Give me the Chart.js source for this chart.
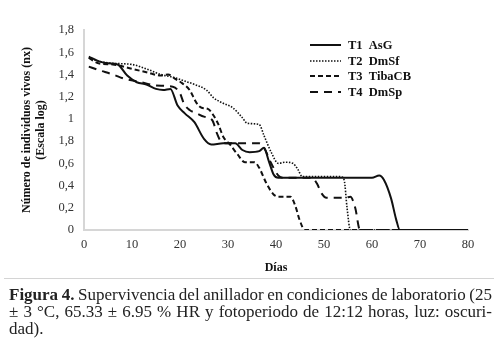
<!DOCTYPE html>
<html>
<head>
<meta charset="utf-8">
<script src="https://cdn.jsdelivr.net/npm/chart.js@4"></script>
<style>
  html,body{margin:0;padding:0;background:#fff;}
  #wrap{position:relative;width:500px;height:343px;overflow:hidden;background:#fff;}
  #c{position:absolute;left:0;top:0;}
  #rule{position:absolute;left:4px;width:490px;top:278px;border-top:1px solid #d4d4d4;}
  #cap{position:absolute;left:9px;top:286px;width:483px;font-family:"Liberation Serif","Times New Roman",serif;font-size:17px;line-height:17px;color:#222;}
  #cap .ln{display:block;white-space:nowrap;}
  #cap .ln span{display:inline-block;white-space:nowrap;}
</style>
</head>
<body>
<div id="wrap">
  <canvas id="c" width="500" height="280"></canvas>
  <div id="rule"></div>
  <div id="cap">
    <div class="ln"><span class="fit"><b>Figura 4.</b> Supervivencia del anillador en condiciones de laboratorio (25</span></div>
    <div class="ln"><span class="fit">± 3 °C, 65.33 ± 6.95 % HR y fotoperiodo de 12:12 horas, luz: oscuri-</span></div>
    <div class="ln"><span>dad).</span></div>
  </div>
</div>
<script>
// ---- Data ----
const seriesNames = ['T1  AsG', 'T2  DmSf', 'T3  TibaCB', 'T4  DmSp'];

const t1Days = [1,3,5,7,9,11,13,15,16.5,18,19.5,21,23,25,26.5,29,31.5,33,34.5,36.5,37.5,38.5,39.5,40.5,45,50,55,60,61.5,62.5,64,65,65.8,70,75,80];
const t1Vals = [1.56,1.52,1.50,1.49,1.39,1.33,1.31,1.27,1.26,1.27,1.12,1.05,0.97,0.82,0.77,0.78,0.78,0.72,0.70,0.71,0.74,0.62,0.50,0.47,0.47,0.47,0.47,0.47,0.49,0.45,0.28,0.10,0,0,0,0];

const t2Days = [1,3,6,10,13,16,19,21,23,25.5,27,29,31,33,34,36.5,37.5,39,40.5,42,43.5,44.5,45.5,50,53.5,54.2,54.8,55.5,60,70,80];
const t2Vals = [1.55,1.52,1.50,1.49,1.45,1.40,1.37,1.34,1.31,1.26,1.19,1.14,1.10,1.01,0.96,0.95,0.85,0.70,0.60,0.61,0.60,0.55,0.48,0.48,0.48,0.45,0.20,0,0,0,0];

const t3Days = [1,3,6,10,13,16,17.5,19,20.5,22,23.5,24.5,25.8,27,28,29,30.4,32,33.5,35.5,36.5,38,39.5,40.5,43,44,45,46,50,60,70,80];
const t3Vals = [1.55,1.50,1.49,1.45,1.42,1.39,1.40,1.36,1.32,1.26,1.14,1.10,1.09,1.03,0.95,0.84,0.77,0.68,0.61,0.61,0.56,0.42,0.32,0.30,0.30,0.22,0.08,0,0,0,0,0];

const t4Days = [1,3,6,8.5,12,15,18.5,20,20.8,22,23.5,25,26.7,27.7,28.5,30,33,36.5,37.5,39,40.5,41.5,45,47.5,48.5,49.5,50.5,54.5,55.5,56.5,57.5,60,70,80];
const t4Vals = [1.47,1.44,1.40,1.36,1.33,1.30,1.29,1.23,1.14,1.08,1.05,1.02,0.99,0.87,0.80,0.78,0.78,0.78,0.74,0.60,0.49,0.47,0.47,0.47,0.42,0.33,0.29,0.29,0.30,0.20,0,0,0,0];

const yTickLabels = ['0','0,2','0,4','0,6','1,8','1','1,2','1,4','1,6','1,8'];
const xTickLabels = ['0','10','20','30','40','50','60','70','80'];

const yTitle = ['Número de individuos vivos (nx)', '(Escala log)'];
const xTitle = 'Días';

// ---- Fit caption lines to the justified width ----
document.querySelectorAll('#cap .fit').forEach(el=>{
  const target = 483;
  const w = el.getBoundingClientRect().width;
  const gaps = (el.textContent.match(/ /g) || []).length;
  if (gaps > 0) {
    let ws = (target - w) / gaps;
    if (ws < -1.0) {
      el.style.wordSpacing = '-1px';
      const w2 = el.getBoundingClientRect().width;
      el.style.transformOrigin = 'left top';
      el.style.transform = 'scaleX(' + (target / w2) + ')';
    } else {
      el.style.wordSpacing = ws + 'px';
    }
  }
});

// ---- Build datasets ----
function pts(days, vals){ return days.map((d,i)=>({x:d, y:vals[i]})); }
const styles = [
  {dash: [],    width: 2},
  {dash: [1.5,1.5], width: 1.6},
  {dash: [5,3], width: 2},
  {dash: [8,6], width: 2}
];
const allDays = [t1Days,t2Days,t3Days,t4Days];
const allVals = [t1Vals,t2Vals,t3Vals,t4Vals];
const datasets = seriesNames.map((n,i)=>({
  label: n,
  data: pts(allDays[i], allVals[i]),
  borderColor: '#111',
  borderWidth: styles[i].width,
  borderDash: styles[i].dash,
  pointRadius: 0,
  fill: false,
  cubicInterpolationMode: 'monotone',
  tension: 0.4
}));

const serif = '"Liberation Serif","Times New Roman",serif';

const legendPlugin = {
  id: 'sideLegend',
  afterDraw(chart){
    const ctx = chart.ctx;
    const x0 = 310, x1 = 341, tx = 348;
    const ys = [45, 61, 76, 92];
    ctx.save();
    chart.data.datasets.forEach((ds,i)=>{
      ctx.beginPath();
      ctx.setLineDash(ds.borderDash || []);
      ctx.lineWidth = ds.borderWidth;
      ctx.strokeStyle = '#111';
      ctx.moveTo(x0, ys[i]); ctx.lineTo(x1, ys[i]);
      ctx.stroke();
      ctx.setLineDash([]);
      ctx.fillStyle = '#111';
      ctx.font = 'bold 12.5px ' + serif;
      ctx.textBaseline = 'middle';
      ctx.textAlign = 'left';
      ctx.fillText(ds.label, tx, ys[i]+0.5);
    });
    ctx.restore();
  }
};

new Chart(document.getElementById('c'), {
  type: 'line',
  data: { datasets },
  options: {
    responsive: false,
    animation: false,
    devicePixelRatio: 1,
    layout: { padding: { left: 0, top: 30, right: 32, bottom: 0 } },
    plugins: { legend: { display: false }, tooltip: { enabled: false } },
    scales: {
      x: {
        type: 'linear', min: 0, max: 80,
        afterFit(s){ s.height = 50; },
        ticks: {
          stepSize: 10, padding: 7, color: '#333', maxRotation: 0,
          font: { family: serif, size: 12.5 },
          callback: (v)=> { const i = Math.round(v/10); return (Math.abs(v - i*10) < 1e-6) ? xTickLabels[i] : ''; }
        },
        grid: { display: false, drawTicks: false },
        border: { display: true, color: '#d6d6d6', width: 2 },
        title: { display: true, text: xTitle, color: '#111', font: { family: serif, size: 12, weight: 'bold' }, padding: { top: 0, bottom: 5 } }
      },
      y: {
        type: 'linear', min: 0, max: 1.8,
        afterFit(s){ s.width = 84; },
        ticks: {
          stepSize: 0.2, padding: 10, color: '#333',
          font: { family: serif, size: 12.5 },
          callback: (v)=> { const i = Math.round(v/0.2); return (Math.abs(v - i*0.2) < 1e-6) ? yTickLabels[i] : ''; }
        },
        grid: { display: false, drawTicks: false },
        border: { display: true, color: '#d6d6d6', width: 2 },
        title: { display: true, text: yTitle, color: '#111', font: { family: serif, size: 12, weight: 'bold', lineHeight: 1.15 }, padding: { top: 20, bottom: 0 } }
      }
    }
  },
  plugins: [legendPlugin]
});
</script>
</body>
</html>
